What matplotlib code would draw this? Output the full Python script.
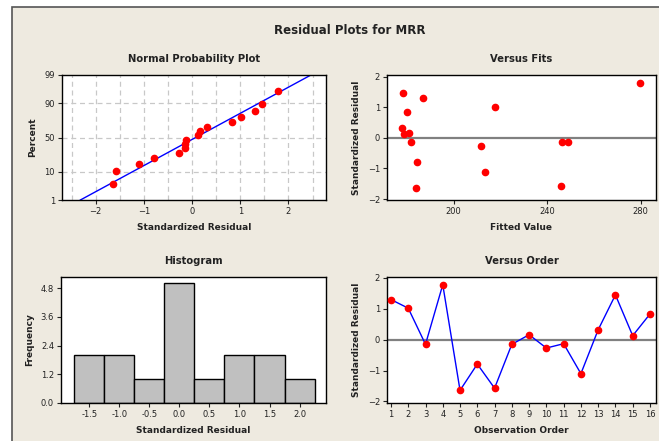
import numpy as np
import matplotlib
matplotlib.use("Agg")
import matplotlib.pyplot as plt
from matplotlib.patches import Rectangle
from statistics import NormalDist

# standardized residuals in observation order, and the fitted values
order = np.arange(1, 17)
resid = np.array([1.30, 1.02, -0.15, 1.78, -1.64, -0.79, -1.57, -0.15,
                  0.16, -0.27, -0.13, -1.10, 0.32, 1.45, 0.13, 0.83])
fits = np.array([186.9, 217.7, 246.5, 279.7, 183.9, 184.5, 246.0, 249.0,
                 181.1, 211.8, 181.9, 213.2, 177.9, 178.4, 178.9, 179.9])

pct_ticks = [1, 10, 50, 90, 99]
hist_edges = np.arange(-1.75, 2.26, 0.5)
hist_ticks = [-1.5, -1.0, -0.5, 0.0, 0.5, 1.0, 1.5, 2.0]
freq_ticks = [0.0, 1.2, 2.4, 3.6, 4.8]

BG = "#EEEAE0"
TXT = "#222222"
nd = NormalDist()


def probit(p):
    return np.array([nd.inv_cdf(v) for v in np.atleast_1d(p)])


def style(ax, title, xlabel, ylabel):
    ax.set_title(title, fontsize=7.2, fontweight="bold", color=TXT, pad=9)
    ax.set_xlabel(xlabel, fontsize=6.5, fontweight="bold", color=TXT, labelpad=5)
    ax.set_ylabel(ylabel, fontsize=6.5, fontweight="bold", color=TXT, labelpad=5)
    ax.tick_params(labelsize=6, colors=TXT, length=3, width=0.8, pad=2)
    for s in ax.spines.values():
        s.set_linewidth(1.0)
        s.set_color("black")
    ax.set_facecolor("white")


fig = plt.figure(figsize=(6.59, 4.41), dpi=100, facecolor="white")
fig.patches.append(Rectangle((12 / 659, -0.02), 1.0, (441 - 7) / 441 + 0.02,
                             transform=fig.transFigure, facecolor=BG,
                             edgecolor="#555555", lw=1.2, zorder=-10))

fig.text(350 / 659, (441 - 30) / 441, "Residual Plots for MRR", ha="center",
         va="center", fontsize=8.5, fontweight="bold", color=TXT)

ax1 = fig.add_axes([62 / 659, 241 / 441, 264 / 659, 125 / 441])
ax2 = fig.add_axes([387 / 659, 241 / 441, 269 / 659, 125 / 441])
ax3 = fig.add_axes([61 / 659, 38 / 441, 265 / 659, 126 / 441])
ax4 = fig.add_axes([387 / 659, 38 / 441, 269 / 659, 126 / 441])

# normal probability plot
n = len(resid)
srt = np.sort(resid)
pos = (np.arange(1, n + 1) - 0.3) / (n + 0.4)
mu, sd = resid.mean(), resid.std(ddof=1)
lim_z = probit([0.01, 0.99])
for gx in np.arange(-2.5, 2.51, 0.5):
    ax1.axvline(gx, color="#C8C8C8", ls=(0, (4, 3)), lw=0.9, zorder=0)
for gp in [10, 50, 90]:
    ax1.axhline(probit(gp / 100)[0], color="#C8C8C8", ls=(0, (4, 3)), lw=0.9, zorder=0)
ax1.plot(mu + sd * lim_z, lim_z, color="blue", lw=1.0, zorder=2)
ax1.plot(srt, probit(pos), "o", color="red", ms=4.5, zorder=3)
ax1.set_xlim(-2.7, 2.78)
ax1.set_ylim(lim_z[0], lim_z[1])
ax1.set_yticks(probit(np.array(pct_ticks) / 100))
ax1.set_yticklabels([str(p) for p in pct_ticks])
ax1.set_xticks([-2, -1, 0, 1, 2])
style(ax1, "Normal Probability Plot", "Standardized Residual", "Percent")

# residuals versus fits
ax2.axhline(0, color="#808080", lw=1.6, zorder=1)
ax2.plot(fits, resid, "o", color="red", ms=4.5, zorder=3)
ax2.set_xlim(171.5, 286.5)
ax2.set_ylim(-2.03, 2.05)
ax2.set_xticks([200, 240, 280])
ax2.set_yticks([-2, -1, 0, 1, 2])
style(ax2, "Versus Fits", "Fitted Value", "Standardized Residual")

# histogram
ax3.hist(resid, bins=hist_edges, color="#C0C0C0", edgecolor="black", lw=1.0)
ax3.set_xlim(-1.97, 2.44)
ax3.set_ylim(0, 5.26)
ax3.set_xticks(hist_ticks)
ax3.set_xticklabels([f"{t:.1f}" for t in hist_ticks])
ax3.set_yticks(freq_ticks)
ax3.set_yticklabels([f"{t:.1f}" for t in freq_ticks])
style(ax3, "Histogram", "Standardized Residual", "Frequency")

# residuals versus order
ax4.axhline(0, color="#808080", lw=1.6, zorder=1)
ax4.plot(order, resid, "-", color="blue", lw=1.0, zorder=2)
ax4.plot(order, resid, "o", color="red", ms=4.5, zorder=3)
ax4.set_xlim(0.77, 16.35)
ax4.set_ylim(-2.05, 2.03)
ax4.set_xticks(order)
ax4.set_yticks([-2, -1, 0, 1, 2])
style(ax4, "Versus Order", "Observation Order", "Standardized Residual")

fig.savefig("out.png", dpi=100, facecolor=fig.get_facecolor())
